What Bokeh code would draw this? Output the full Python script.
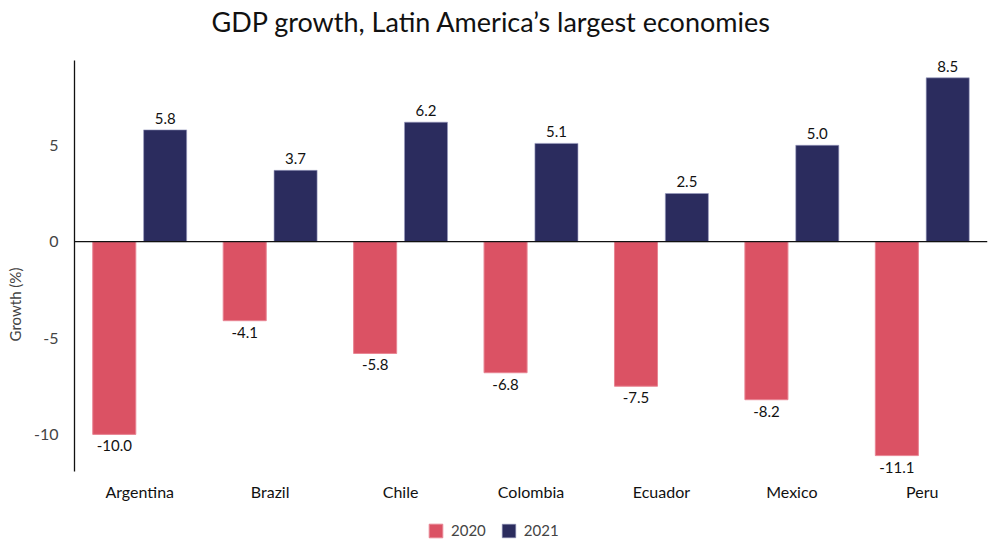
from bokeh.plotting import figure
from bokeh.models import ColumnDataSource, FactorRange, Range1d, Span, Legend, LegendItem, FixedTicker, Title
from bokeh.transform import dodge
from bokeh.core.properties import value
from bokeh.embed import file_html
from bokeh.resources import INLINE

countries = ["Argentina", "Brazil", "Chile", "Colombia", "Ecuador", "Mexico", "Peru"]
growth_2020 = [-10.0, -4.1, -5.8, -6.8, -7.5, -8.2, -11.1]
growth_2021 = [5.8, 3.7, 6.2, 5.1, 2.5, 5.0, 8.5]
y_ticks = [-10, -5, 0, 5]
y_axis_bounds = (-11.9, 9.4)

RED = "#DB5264"
NAVY = "#2B2C5E"
FONT = "Lato"

src = ColumnDataSource(dict(
    country=countries,
    y2020=growth_2020,
    y2021=growth_2021,
    t2020=["%.1f" % v for v in growth_2020],
    t2021=["%.1f" % v for v in growth_2021],
    axis_y=[y_axis_bounds[0]] * len(countries),
))

# frame extends below the axis so the legend fits inside it
p = figure(frame_width=913, frame_height=488, x_range=FactorRange(*countries, range_padding=0),
           y_range=Range1d(-15.92, 9.4), output_backend="svg", toolbar_location=None,
           min_border_left=74, min_border_right=5, min_border_top=60, min_border_bottom=2)

p.title.text = "GDP growth, Latin America\u2019s largest economies"
p.title.align = "left"
p.title.offset = 137
p.title.vertical_align = "bottom"
p.title.text_font = FONT
p.title.text_font_size = "27px"
p.title.text_font_style = "normal"
p.title.text_color = "#111111"
p.title.standoff = 4

# empty spacer between the title and the plot frame
p.add_layout(Title(text=" ", text_font_size="2px", standoff=17), "above")

r1 = p.vbar(x=dodge("country", -0.195, range=p.x_range), top="y2020", bottom=0, width=0.33,
            source=src, fill_color=RED, line_color="#E88593", line_width=1)
r2 = p.vbar(x=dodge("country", 0.195, range=p.x_range), top="y2021", bottom=0, width=0.33,
            source=src, fill_color=NAVY, line_color="#9A9BC0", line_width=1, line_alpha=0.6)

p.text(x=dodge("country", -0.195, range=p.x_range), y="y2020", text="t2020", source=src,
       text_align="center", text_baseline="top", y_offset=6,
       text_font=value(FONT), text_font_size="15px", text_color="#111111")
p.text(x=dodge("country", 0.195, range=p.x_range), y="y2021", text="t2021", source=src,
       text_align="center", text_baseline="bottom", y_offset=-6,
       text_font=value(FONT), text_font_size="15px", text_color="#111111")

# category labels placed under the axis bottom
p.text(x="country", y="axis_y", text="country", source=src,
       text_align="center", text_baseline="middle", y_offset=20,
       text_font=value(FONT), text_font_size="16px", text_color="#111111")

p.add_layout(Span(location=0, dimension="width", line_color="#111111", line_width=1.3))

p.grid.visible = False
p.outline_line_color = None
p.xaxis.visible = False

yax = p.yaxis[0]
yax.bounds = y_axis_bounds
yax.ticker = FixedTicker(ticks=y_ticks)
yax.major_label_overrides = {t: str(t) for t in y_ticks}
yax.axis_label = "Growth (%)"
yax.axis_label_text_font = FONT
yax.axis_label_text_font_style = "normal"
yax.axis_label_text_font_size = "15px"
yax.axis_label_standoff = 7
yax.major_label_text_font = FONT
yax.major_label_text_font_size = "16px"
yax.major_label_standoff = 16
yax.major_tick_line_color = None
yax.minor_tick_line_color = None
yax.major_tick_out = 0
yax.major_tick_in = 0
yax.minor_tick_out = 0
yax.axis_line_color = "#111111"
yax.axis_line_width = 1.3

legend = Legend(items=[LegendItem(label="2020", renderers=[r1]),
                       LegendItem(label="2021", renderers=[r2])],
                orientation="horizontal", location=(353, 9),
                label_text_font=FONT, label_text_font_size="15px",
                glyph_width=17, glyph_height=17, spacing=14, padding=9,
                label_standoff=7,
                border_line_color=None, background_fill_alpha=0, margin=0)
p.add_layout(legend)

open("out.html", "w").write(file_html(p, INLINE))
